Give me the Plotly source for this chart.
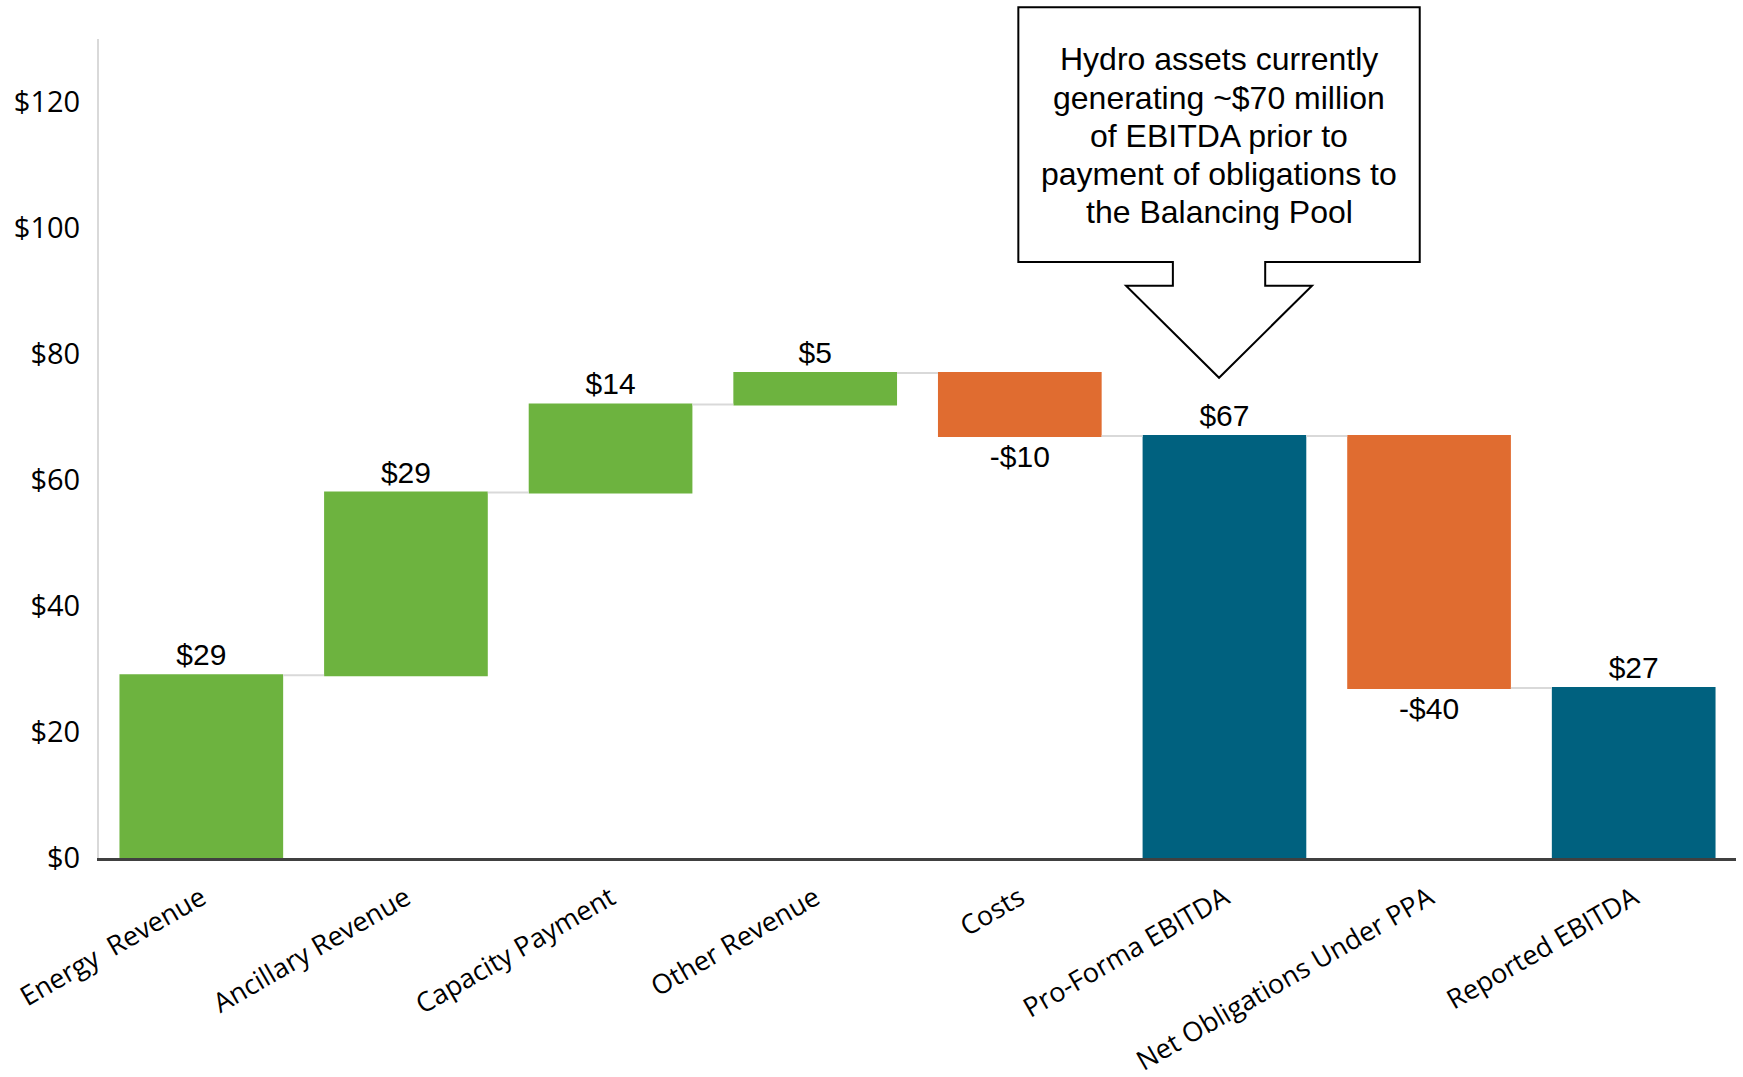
import plotly.graph_objects as go

# ---- data ----
categories = ["Energy  Revenue", "Ancillary Revenue", "Capacity Payment", "Other Revenue",
              "Costs", "Pro-Forma EBITDA", "Net Obligations Under PPA", "Reported EBITDA"]
values = [29, 29, 14, 5, -10, 67, -40, 27]
measures = ["relative", "relative", "relative", "relative", "relative", "total", "relative", "total"]
y_tick_vals = [0, 20, 40, 60, 80, 100, 120]
y_tick_text = ["$0", "$20", "$40", "$60", "$80", "$100", "$120"]
callout_lines = ["Hydro assets currently", "generating ~$70 million", "of EBITDA prior to",
                 "payment of obligations to", "the Balancing Pool"]

labels = [f"-${abs(v)}" if v < 0 else f"${v}" for v in values]

GREEN = "#6DB33F"
ORANGE = "#E06C30"
TEAL = "#00617F"

W, H = 1743, 1077
ML, MR, MT, MB = 99, 7, 39, 219
plot_h = H - MT - MB
plot_w = W - ML - MR

fig = go.Figure(go.Waterfall(
    x=categories,
    y=values,
    measure=measures,
    text=labels,
    textposition="outside",
    textfont=dict(family="Liberation Sans, Arial", size=30, color="#000000"),
    increasing=dict(marker=dict(color=GREEN)),
    decreasing=dict(marker=dict(color=ORANGE)),
    totals=dict(marker=dict(color=TEAL)),
    connector=dict(mode="between", line=dict(color="#D9D9D9", width=2)),
    cliponaxis=False,
    hoverinfo="skip",
))

# callout (rectangle with down arrow) in paper coordinates (pixel-derived)
def py2paper(py):
    return (H - MB - py) / plot_h

def px2paper(px):
    return (px - ML) / plot_w

cx = px2paper(1219)
bh, sh, hh = 200.7 / plot_w, 46.2 / plot_w, 93.0 / plot_w
ytop, ybox, yhead, ytip = py2paper(7.3), py2paper(262), py2paper(285.7), py2paper(377.7)
pts = [(cx - bh, ytop), (cx + bh, ytop), (cx + bh, ybox), (cx + sh, ybox), (cx + sh, yhead),
       (cx + hh, yhead), (cx, ytip), (cx - hh, yhead), (cx - sh, yhead), (cx - sh, ybox),
       (cx - bh, ybox)]
path = "M " + " L ".join(f"{x:.4f},{y:.4f}" for x, y in pts) + " Z"
fig.add_shape(type="path", path=path, xref="paper", yref="paper",
              line=dict(color="#000000", width=2), fillcolor="#FFFFFF", layer="above")

baseline0, spacing, fs = 71.0, 38.25, 32
for i, line in enumerate(callout_lines):
    py = baseline0 + i * spacing - 0.36 * fs
    fig.add_annotation(x=cx, y=py2paper(py), xref="paper", yref="paper",
                       text=line, showarrow=False, xanchor="center", yanchor="middle",
                       font=dict(family="Liberation Sans, Arial", size=fs, color="#000000"))

fig.update_layout(
    width=W, height=H,
    margin=dict(l=ML, r=MR, t=MT, b=MB, pad=0, autoexpand=False),
    paper_bgcolor="#FFFFFF", plot_bgcolor="#FFFFFF",
    showlegend=False,
    waterfallgap=0.2,
    font=dict(family="Open Sans, Noto Sans", size=27, color="#000000"),
    xaxis=dict(
        tickangle=-30,
        automargin=False,
        showline=True, linecolor="#404040", linewidth=2.5,
        showgrid=False, zeroline=False, ticks="",
        ticklabelstandoff=11,
        tickfont=dict(family="Open Sans, Noto Sans", size=27, color="#000000"),
    ),
    yaxis=dict(
        range=[0, 130],
        automargin=False,
        tickvals=y_tick_vals, ticktext=y_tick_text,
        showline=True, linecolor="#D9D9D9", linewidth=2,
        showgrid=False, zeroline=False, ticks="",
        ticklabelstandoff=11,
        tickfont=dict(family="Open Sans, Noto Sans", size=29, color="#000000"),
    ),
)

fig.write_html("out.html", config={"displayModeBar": False},
               post_script="document.body.style.margin='0';")
